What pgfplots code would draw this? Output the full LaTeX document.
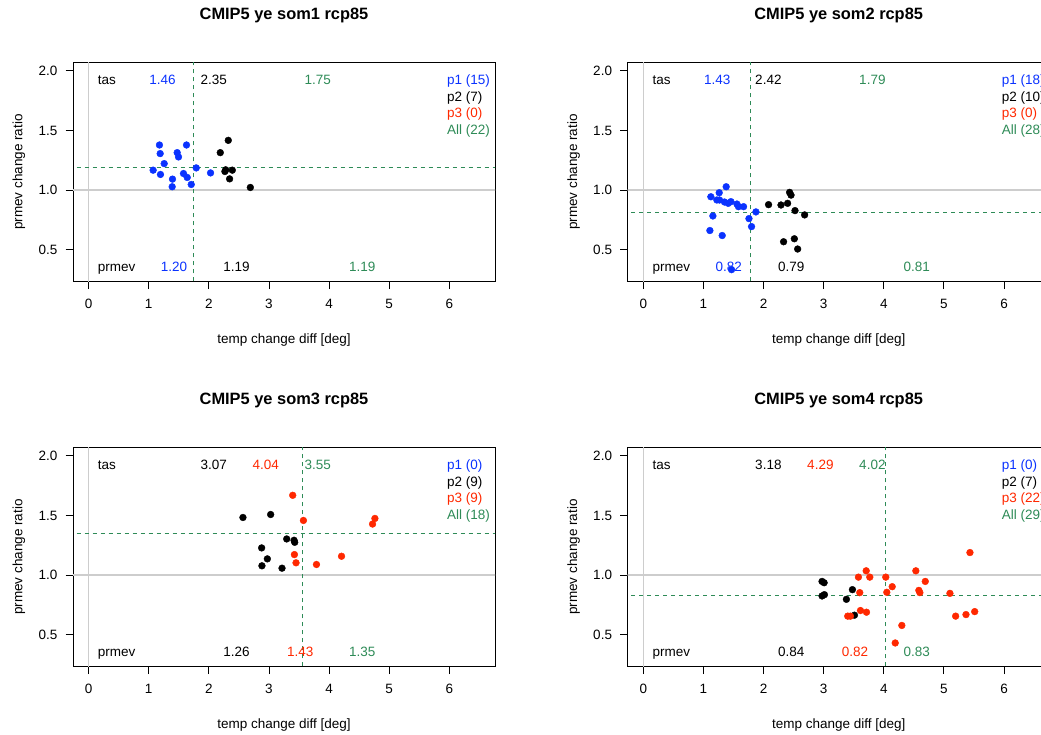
\documentclass[border=0pt]{standalone}
\usepackage{fontspec}
\setmainfont{Liberation Sans}
\usepackage{pgfplots}
\pgfplotsset{compat=1.18}
\definecolor{pblue}{RGB}{10,50,255}
\definecolor{pred}{RGB}{255,40,0}
\definecolor{pgreen}{RGB}{46,139,87}
\definecolor{lgray}{RGB}{205,205,205}
\newcommand{\annfont}{\fontsize{13.5bp}{16bp}\selectfont}
\newcommand{\tx}[4]{\node[anchor=base,text=#1,inner sep=0pt,font=\annfont] at (axis cs:#2,#3) {#4};}
\newcommand{\tl}[4]{\node[anchor=base west,text=#1,inner sep=0pt,font=\annfont] at (axis cs:#2,#3) {#4};}
\newcommand{\refl}{%
  \draw[lgray,line width=1.3bp] (axis cs:0,0.1) -- (axis cs:0,2.2);
  \draw[lgray,line width=1.3bp] (axis cs:-1,1) -- (axis cs:7,1);
}
\newcommand{\grl}[2]{%
  \draw[draw=pgreen,line width=1bp,dash pattern=on 4bp off 4bp] (axis cs:#1,0.1) -- (axis cs:#1,2.2);
  \draw[draw=pgreen,line width=1bp,dash pattern=on 4bp off 4bp] (axis cs:-1,#2) -- (axis cs:7,#2);
}
\pgfplotsset{
  somstyle/.style={
    scale only axis, width=422bp, height=219bp,
    xmin=-0.26, xmax=6.76, ymin=0.232, ymax=2.068,
    xtick={0,1,2,3,4,5,6}, ytick={0.5,1.0,1.5,2.0},
    yticklabels={0.5,1.0,1.5,2.0},
    tick align=outside, major tick length=7.5bp, tick pos=left,
    axis line style={line width=0.9bp},
    every tick/.style={line width=0.9bp, black},
    /pgf/number format/assume math mode=true,
    ticklabel style={font=\annfont, inner sep=0pt},
    xticklabel style={anchor=north, yshift=-10bp},
    yticklabel style={anchor=east, xshift=-8bp},
    title style={font=\bfseries\fontsize{16.4bp}{19bp}\selectfont, at={(axis description cs:0.5,1.19)}, anchor=center},
    xlabel={temp change diff [deg]}, ylabel={prmev change ratio},
    label style={font=\annfont},
    xlabel style={at={(axis description cs:0.5,-0.2648)}, anchor=center},
    ylabel style={at={(axis description cs:-0.128,0.5)}, anchor=center},
    clip=true,
  },
  pts/.style={only marks, mark=*, mark size=3.4bp, mark options={draw=#1, fill=#1}, color=#1},
}
\begin{document}
\begin{tikzpicture}[x=1bp,y=1bp]
\useasboundingbox (0,0) rectangle (1041,-735);
\clip (0,0) rectangle (1041,-735);
% ---------------- panel 1
\begin{axis}[somstyle, at={(73bp,-281.7bp)}, anchor=south west, title={CMIP5 ye som1 rcp85}]
\refl
\addplot[pts=pblue] coordinates {(1.178,1.378) (1.628,1.378) (1.19,1.306) (1.473,1.314) (1.495,1.278) (1.257,1.222) (1.073,1.167) (1.195,1.131) (1.578,1.139) (1.64,1.106) (1.395,1.092) (1.39,1.028) (1.707,1.047) (1.79,1.186) (2.028,1.144)};
\addplot[pts=black] coordinates {(2.323,1.417) (2.19,1.314) (2.267,1.156) (2.28,1.17) (2.39,1.167) (2.345,1.094) (2.69,1.022)};
\grl{1.75}{1.19}
\tl{black}{0.15}{1.882}{tas}
\tx{pblue}{1.23}{1.882}{1.46}
\tx{black}{2.08}{1.882}{2.35}
\tx{pgreen}{3.81}{1.882}{1.75}
\tl{black}{0.15}{0.320}{prmev}
\tx{pblue}{1.42}{0.320}{1.20}
\tx{black}{2.46}{0.320}{1.19}
\tx{pgreen}{4.55}{0.320}{1.19}
\tl{pblue}{5.96}{1.882}{p1 (15)}
\tl{black}{5.96}{1.745}{p2 (7)}
\tl{pred}{5.96}{1.609}{p3 (0)}
\tl{pgreen}{5.96}{1.470}{All (22)}
\end{axis}
% ---------------- panel 2
\begin{axis}[somstyle, at={(627.7bp,-281.7bp)}, anchor=south west, title={CMIP5 ye som2 rcp85}]
\refl
\addplot[pts=pblue] coordinates {(1.378,1.028) (1.262,0.978) (1.123,0.944) (1.223,0.917) (1.267,0.917) (1.412,0.889) (1.457,0.903) (1.35,0.90) (1.557,0.883) (1.583,0.861) (1.667,0.861) (1.873,0.817) (1.757,0.761) (1.157,0.783) (1.8,0.694) (1.107,0.661) (1.312,0.619) (1.467,0.333)};
\addplot[pts=black] coordinates {(2.083,0.878) (2.29,0.875) (2.4,0.889) (2.433,0.981) (2.457,0.958) (2.523,0.828) (2.683,0.792) (2.333,0.567) (2.512,0.592) (2.567,0.506)};
\grl{1.79}{0.81}
\tl{black}{0.15}{1.882}{tas}
\tx{pblue}{1.23}{1.882}{1.43}
\tx{black}{2.08}{1.882}{2.42}
\tx{pgreen}{3.81}{1.882}{1.79}
\tl{black}{0.15}{0.320}{prmev}
\tx{pblue}{1.42}{0.320}{0.82}
\tx{black}{2.46}{0.320}{0.79}
\tx{pgreen}{4.55}{0.320}{0.81}
\tl{pblue}{5.96}{1.882}{p1 (18)}
\tl{black}{5.96}{1.745}{p2 (10)}
\tl{pred}{5.96}{1.609}{p3 (0)}
\tl{pgreen}{5.96}{1.470}{All (28)}
\end{axis}
% ---------------- panel 3
\begin{axis}[somstyle, at={(73bp,-666.7bp)}, anchor=south west, title={CMIP5 ye som3 rcp85}]
\refl
\addplot[pts=black] coordinates {(2.567,1.483) (3.028,1.508) (3.295,1.303) (3.417,1.292) (3.428,1.275) (2.878,1.228) (2.973,1.136) (2.883,1.078) (3.217,1.058)};
\addplot[pts=pred] coordinates {(3.395,1.669) (3.573,1.458) (4.762,1.475) (4.723,1.428) (3.423,1.172) (3.45,1.103) (3.79,1.089) (4.207,1.158)};
\grl{3.55}{1.35}
\tl{black}{0.15}{1.882}{tas}
\tx{black}{2.08}{1.882}{3.07}
\tx{pred}{2.945}{1.882}{4.04}
\tx{pgreen}{3.81}{1.882}{3.55}
\tl{black}{0.15}{0.320}{prmev}
\tx{black}{2.46}{0.320}{1.26}
\tx{pred}{3.52}{0.320}{1.43}
\tx{pgreen}{4.55}{0.320}{1.35}
\tl{pblue}{5.96}{1.882}{p1 (0)}
\tl{black}{5.96}{1.745}{p2 (9)}
\tl{pred}{5.96}{1.609}{p3 (9)}
\tl{pgreen}{5.96}{1.470}{All (18)}
\end{axis}
% ---------------- panel 4
\begin{axis}[somstyle, at={(627.7bp,-666.7bp)}, anchor=south west, title={CMIP5 ye som4 rcp85}]
\refl
\addplot[pts=black] coordinates {(2.973,0.947) (3.007,0.936) (2.973,0.825) (3.012,0.836) (3.478,0.878) (3.378,0.797) (3.512,0.664)};
\addplot[pts=pred] coordinates {(5.433,1.189) (3.707,1.036) (3.578,0.983) (3.767,0.983) (4.033,0.983) (4.533,1.036) (4.69,0.947) (4.14,0.903) (3.6,0.853) (4.05,0.856) (4.583,0.872) (4.6,0.853) (5.1,0.847) (3.612,0.703) (3.712,0.689) (3.4,0.656) (3.445,0.656) (4.3,0.578) (4.19,0.431) (5.195,0.656) (5.367,0.669) (5.512,0.694)};
\grl{4.02}{0.83}
\tl{black}{0.15}{1.882}{tas}
\tx{black}{2.08}{1.882}{3.18}
\tx{pred}{2.945}{1.882}{4.29}
\tx{pgreen}{3.81}{1.882}{4.02}
\tl{black}{0.15}{0.320}{prmev}
\tx{black}{2.46}{0.320}{0.84}
\tx{pred}{3.52}{0.320}{0.82}
\tx{pgreen}{4.55}{0.320}{0.83}
\tl{pblue}{5.96}{1.882}{p1 (0)}
\tl{black}{5.96}{1.745}{p2 (7)}
\tl{pred}{5.96}{1.609}{p3 (22)}
\tl{pgreen}{5.96}{1.470}{All (29)}
\end{axis}
\end{tikzpicture}
\end{document}
